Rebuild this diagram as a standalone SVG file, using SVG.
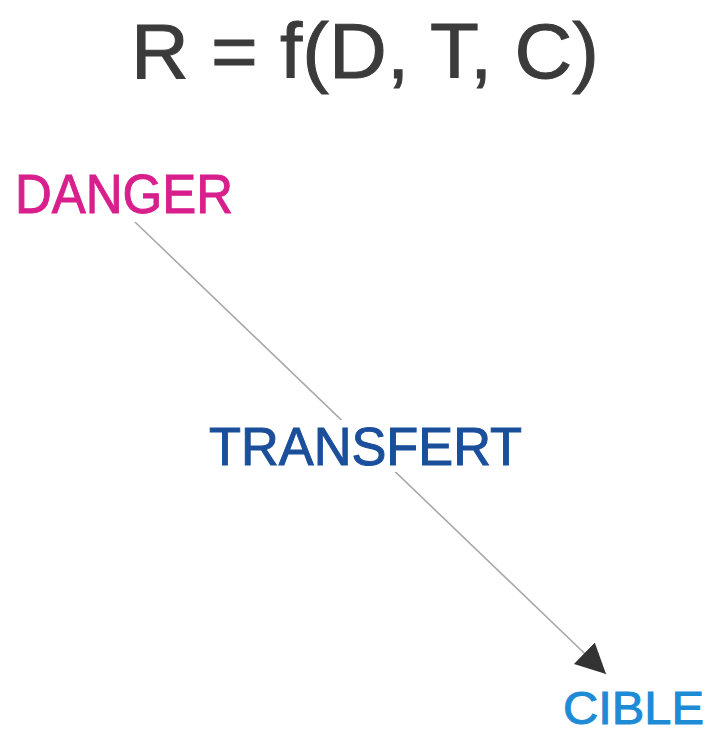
<svg xmlns="http://www.w3.org/2000/svg" width="714" height="733" viewBox="0 0 714 733">
<style>
text{font-family:"Liberation Sans",Arial,sans-serif;stroke-width:1;}
.conn{stroke:#a8a8a8;stroke-width:1.6;fill:none;}
</style>
<defs>
<marker id="arr" markerUnits="userSpaceOnUse" markerWidth="34" markerHeight="34" refX="30" refY="15" orient="auto" viewBox="0 0 34 30">
<path d="M0,0 L30,15 L0,30 Z" fill="#333"/>
</marker>
</defs>
<rect width="714" height="733" fill="#fff"/>
<g id="title"><text x="365" y="78" font-size="78" fill="#3b3b3b" stroke="#3b3b3b" text-anchor="middle" textLength="468" lengthAdjust="spacingAndGlyphs">R = f(D, T, C)</text></g>
<g id="connectors">
<line class="conn" x1="135" y1="222" x2="606" y2="674" marker-end="url(#arr)"/>
</g>
<g id="danger"><text x="15" y="213" font-size="55" fill="#d81f8c" stroke="#d81f8c" textLength="218" lengthAdjust="spacingAndGlyphs">DANGER</text></g>
<g id="transfert"><rect x="205" y="420" width="322" height="52" fill="#fff"/><text x="209" y="465" font-size="53" fill="#1b4f9b" stroke="#1b4f9b" textLength="313" lengthAdjust="spacingAndGlyphs">TRANSFERT</text></g>
<g id="cible"><text x="563" y="724" font-size="47" fill="#1e8bd6" stroke="#1e8bd6" textLength="141" lengthAdjust="spacingAndGlyphs">CIBLE</text></g>
</svg>
